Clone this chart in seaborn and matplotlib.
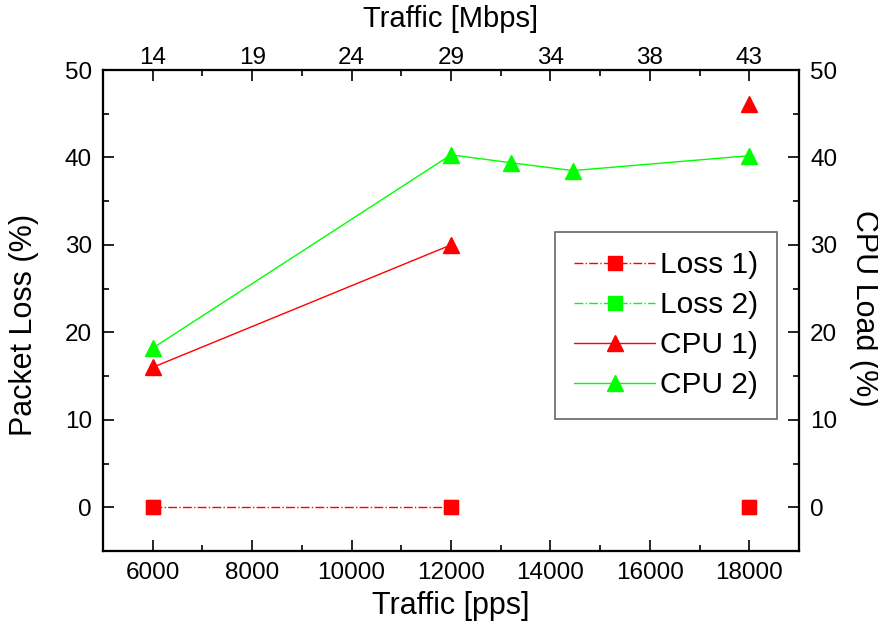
import numpy as np
import pandas as pd
import matplotlib
matplotlib.use("Agg")
import matplotlib.pyplot as plt
from matplotlib.lines import Line2D
from matplotlib.ticker import MultipleLocator, FixedLocator
import seaborn as sns

# ---- data ----
loss1_x = [6000, 12000, 18000]
loss1_y = [0, 0, 0]
loss2_x = [6000, 12000, 18000]
loss2_y = [0, 0, 0]
cpu1_x = [6000, 12000, 18000]
cpu1_y = [16.0, 30.0, 46.1]
cpu2_x = [6000, 12000, 13200, 14450, 18000]
cpu2_y = [18.2, 40.3, 39.4, 38.5, 40.2]
# number of leading points joined by a line (the rest are isolated)
loss1_joined = 2
loss2_joined = 0   # hidden under Loss 1 in the reference
cpu1_joined = 2
cpu2_joined = 5

x_ticks = [6000, 8000, 10000, 12000, 14000, 16000, 18000]
top_tick_labels = ["14", "19", "24", "29", "34", "38", "43"]
y_ticks = [0, 10, 20, 30, 40, 50]

RED = "#ff0000"
GREEN = "#00ff00"

sns.set_style("white")
plt.rcParams["font.family"] = ["Liberation Sans", "DejaVu Sans"]
plt.rcParams["text.color"] = "black"
plt.rcParams["axes.labelcolor"] = "black"
plt.rcParams["xtick.color"] = "black"
plt.rcParams["ytick.color"] = "black"

TICK_FS = 17.5
LABEL_FS = 22

fig = plt.figure(figsize=(8.79, 6.28), dpi=100)
ax = fig.add_axes([103 / 879, 77 / 628, 696 / 879, 481 / 628])

def draw(xs, ys, n_join, color, marker, ms, ls, z):
    df = pd.DataFrame({"x": xs, "y": ys})
    if n_join > 1:
        sns.lineplot(data=df.iloc[:n_join], x="x", y="y", ax=ax, color=color,
                     linestyle=ls, linewidth=1.0, zorder=z, legend=False)
    ax.plot(df["x"], df["y"], linestyle="none", marker=marker, markersize=ms,
            color=color, markeredgecolor=color, zorder=z + 0.5)

draw(loss2_x, loss2_y, loss2_joined, GREEN, "s", 10, "-.", 2)
draw(loss1_x, loss1_y, loss1_joined, RED, "s", 10, "-.", 3)
draw(cpu1_x, cpu1_y, cpu1_joined, RED, "^", 12, "-", 4)
draw(cpu2_x, cpu2_y, cpu2_joined, GREEN, "^", 12, "-", 5)

ax.set_xlim(5000, 19000)
ax.set_ylim(-5, 50)
ax.xaxis.set_major_locator(FixedLocator(x_ticks))
ax.xaxis.set_minor_locator(MultipleLocator(1000))
ax.yaxis.set_major_locator(FixedLocator(y_ticks))
ax.yaxis.set_minor_locator(MultipleLocator(5))
ax.set_xticklabels([str(v) for v in x_ticks])
ax.tick_params(axis="both", which="major", direction="in", length=8, width=1.2,
               labelsize=TICK_FS, colors="black", pad=8)
ax.tick_params(axis="both", which="minor", direction="in", length=4, width=1.2)
ax.set_xlabel("Traffic [pps]", fontsize=LABEL_FS, va="center")
ax.set_ylabel("Packet Loss (%)", fontsize=LABEL_FS, va="center")
ax.xaxis.set_label_coords(0.5, (551 - 606) / 481)
ax.yaxis.set_label_coords((24 - 103) / 696, (551 - 325) / 481)
for s in ax.spines.values():
    s.set_linewidth(1.5)
    s.set_color("black")
    s.set_visible(True)

# right axis
axr = ax.twinx()
axr.set_ylim(-5, 50)
axr.yaxis.set_major_locator(FixedLocator(y_ticks))
axr.yaxis.set_minor_locator(MultipleLocator(5))
axr.tick_params(axis="y", which="major", direction="in", length=8, width=1.2,
                labelsize=TICK_FS, pad=8, colors="black")
axr.tick_params(axis="y", which="minor", direction="in", length=4, width=1.2)
axr.set_ylabel("CPU Load (%)", fontsize=LABEL_FS, rotation=270, va="center")
axr.yaxis.set_label_coords((864 - 103) / 696, (551 - 308) / 481)

# top axis
axt = ax.twiny()
axt.set_xlim(5000, 19000)
axt.xaxis.set_major_locator(FixedLocator(x_ticks))
axt.xaxis.set_minor_locator(MultipleLocator(1000))
axt.set_xticklabels(top_tick_labels)
axt.tick_params(axis="x", which="major", direction="in", length=8, width=1.2,
                labelsize=TICK_FS, pad=1, colors="black")
axt.tick_params(axis="x", which="minor", direction="in", length=4, width=1.2)
axt.set_xlabel("Traffic [Mbps]", fontsize=LABEL_FS - 1, va="center")
axt.xaxis.set_label_coords(0.5, (551 - 19) / 481)
for a in (axr, axt):
    for s in a.spines.values():
        s.set_linewidth(1.5)
        s.set_color("black")

handles = [
    Line2D([], [], color=RED, linestyle="-.", linewidth=1.0, marker="s", markersize=10),
    Line2D([], [], color=GREEN, linestyle="-.", linewidth=1.0, marker="s", markersize=10),
    Line2D([], [], color=RED, linestyle="-", linewidth=1.0, marker="^", markersize=12),
    Line2D([], [], color=GREEN, linestyle="-", linewidth=1.0, marker="^", markersize=12),
]
labels = ["Loss 1)", "Loss 2)", "CPU 1)", "CPU 2)"]
leg = axt.legend(handles, labels, loc="upper left",
                 bbox_to_anchor=((555 - 103) / 696, (551 - 232) / 481),
                 fontsize=21.5, frameon=True, fancybox=False, edgecolor="#404040",
                 handlelength=2.7, handletextpad=0.15, labelspacing=0.4,
                 borderpad=0.65, borderaxespad=0, numpoints=1)
leg.get_frame().set_linewidth(1.2)

fig.savefig("out.png", dpi=100)
